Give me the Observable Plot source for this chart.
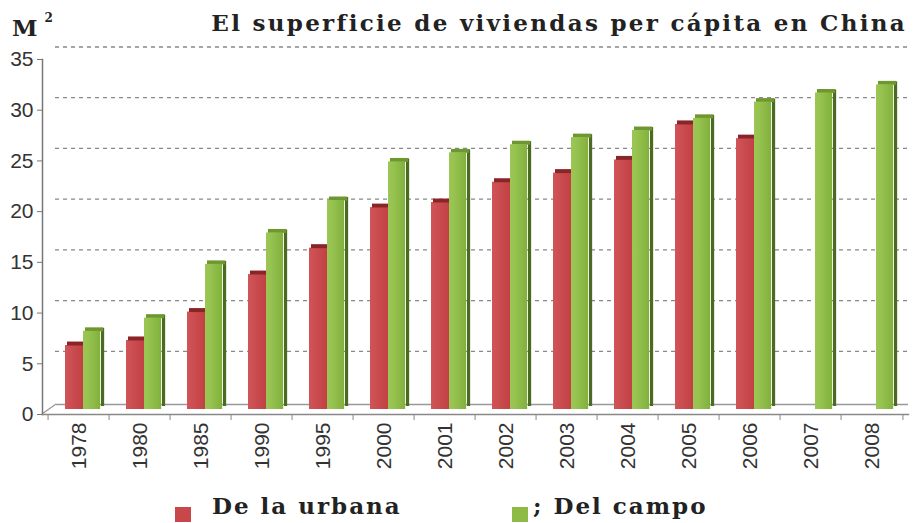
<!DOCTYPE html>
<html><head><meta charset="utf-8">
<script src="https://cdn.jsdelivr.net/npm/d3@7"></script>
<script src="https://cdn.jsdelivr.net/npm/@observablehq/plot@0.6"></script>
<style>
body{margin:0;background:#fff;}
#wrap{position:relative;width:915px;height:523px;overflow:hidden;}
.title{position:absolute;right:8px;top:9px;font-family:"DejaVu Serif",serif;font-weight:bold;font-size:23px;letter-spacing:2.3px;color:#222;white-space:nowrap;}
.unit{position:absolute;left:12px;top:14px;font-family:"DejaVu Serif",serif;font-weight:bold;font-size:23px;color:#222;}
.unit sup{font-size:12px;position:relative;top:-5px;margin-left:7px;}
.leg{position:absolute;top:492px;font-family:"DejaVu Serif",serif;font-weight:bold;font-size:23px;letter-spacing:2px;color:#222;white-space:nowrap;}
.sw{position:absolute;width:16px;height:15px;}
svg{position:absolute;left:0;top:0;}
</style></head><body><div id="wrap"></div>
<script>
const years = ["1978","1980","1985","1990","1995","2000","2001","2002","2003","2004","2005","2006","2007","2008"];
const urbana = [6.7,7.2,10.0,13.7,16.3,20.3,20.8,22.8,23.7,25.0,28.5,27.1,null,null];
const campo = [8.1,9.4,14.7,17.8,21.0,24.8,25.7,26.5,27.2,27.9,29.1,30.7,31.6,32.4];
const yTicks = [0,5,10,15,20,25,30,35];
const seriesNames = ["De la urbana","Del campo"];
const titleText = "El superficie de viviendas per cápita en China";
const unitText = "M";

const redFace = "#c8474b", redCap = "#8a2426";
const greenFace = "#8dbb46", greenSide = "#4c6b22", greenCap = "#6e982f";

const U = years.map((y,i)=>({year:y, value:urbana[i]})).filter(d=>d.value!=null);
const C = years.map((y,i)=>({year:y, value:campo[i]}));

const W = 915, H = 523, mL = 42, mR = 7, mT = 59, mB = 109;
const bw = (W - mL - mR) / years.length;
const ns = "http://www.w3.org/2000/svg";

function defs(){
  const d = document.createElementNS(ns, "defs");
  d.innerHTML = `
    <linearGradient id="gGreen" x1="0" x2="1" y1="0" y2="0">
      <stop offset="0" stop-color="#9cc655"/><stop offset="0.35" stop-color="#95c24e"/>
      <stop offset="1" stop-color="#82b03d"/></linearGradient>
    <linearGradient id="gRed" x1="0" x2="1" y1="0" y2="0">
      <stop offset="0" stop-color="#d05558"/><stop offset="1" stop-color="#c13f43"/></linearGradient>`;
  return d;
}
// floor depth edge at the left corner (from the y scale's zero)
function floorEdge(index, scales, values, dims){
  const y0 = scales.y(0);
  const l = document.createElementNS(ns, "line");
  l.setAttribute("x1", dims.marginLeft); l.setAttribute("y1", y0);
  l.setAttribute("x2", dims.marginLeft + 14); l.setAttribute("y2", y0 - 10);
  l.setAttribute("stroke", "#999"); l.setAttribute("stroke-width", "1.3");
  return l;
}

const chart = Plot.plot({
  width: W, height: H,
  marginLeft: mL, marginRight: mR, marginTop: mT, marginBottom: mB,
  x: {domain: years, padding: 0, label: null},
  y: {domain: [0, 35], label: null},
  style: {background: "transparent", color: "#333"},
  marks: [
    defs,
    Plot.ruleY(yTicks.filter(d=>d>0), {dy: -12.5, insetLeft: 13, stroke: "#888", strokeWidth: 1.3, strokeDasharray: "4 4"}),
    Plot.ruleY([0], {dy: -10, insetLeft: 14, stroke: "#999", strokeWidth: 1.5}),
    floorEdge,
    // red bars
    Plot.barY(U, {x: "year", y: "value", fill: "url(#gRed)", insetLeft: 17, insetRight: bw - 37, insetBottom: 4, dy: -1}),
    Plot.tickY(U, {x: "year", y: "value", stroke: redCap, strokeWidth: 4, insetLeft: 19, insetRight: bw - 39, dy: -3}),
    // green bars
    Plot.barY(C, {x: "year", y: "value", fill: greenSide, insetLeft: 53, insetRight: bw - 57, insetBottom: 4, dy: -4}),
    Plot.tickY(C, {x: "year", y: "value", stroke: greenCap, strokeWidth: 4, insetLeft: 37, insetRight: bw - 56, dy: -3}),
    Plot.barY(C, {x: "year", y: "value", fill: "url(#gGreen)", insetLeft: 35, insetRight: bw - 53, insetBottom: 4, dy: -1}),
    // axes
    Plot.frame({anchor: "left", stroke: "#777", strokeWidth: 1.5}),
    Plot.frame({anchor: "bottom", stroke: "#888", strokeWidth: 1.5}),
    Plot.ruleX(years, {x: d=>d, y1: 0, y2: 0, dx: -bw/2, insetBottom: -6, stroke: "#888"}),
    Plot.ruleX([years[years.length-1]], {x: d=>d, y1: 0, y2: 0, dx: bw/2, insetBottom: -6, stroke: "#888"}),
    Plot.axisY({ticks: yTicks, tickSize: 5, tickPadding: 4, fontSize: 21, fontFamily: "Liberation Sans", label: null, stroke: "#777"}),
    Plot.axisX({tickSize: 0, tickPadding: 8, tickRotate: -90, fontSize: 21, fontFamily: "Liberation Sans", label: null})
  ]
});
const wrap = document.getElementById("wrap");
wrap.appendChild(chart);

const t = document.createElement("div"); t.className = "title"; t.textContent = titleText; wrap.appendChild(t);
const u = document.createElement("div"); u.className = "unit"; u.innerHTML = unitText + "<sup>2</sup>"; wrap.appendChild(u);

function legendItem(color, sx, tx, text){
  const s = document.createElement("div"); s.className = "sw"; s.style.left = sx + "px"; s.style.top = "507px"; s.style.background = color; wrap.appendChild(s);
  const l = document.createElement("div"); l.className = "leg"; l.style.left = tx + "px"; l.textContent = text; wrap.appendChild(l);
}
legendItem(redFace, 175, 212, seriesNames[0]);
legendItem(greenFace, 512, 533, "; " + seriesNames[1]);
</script></body></html>
